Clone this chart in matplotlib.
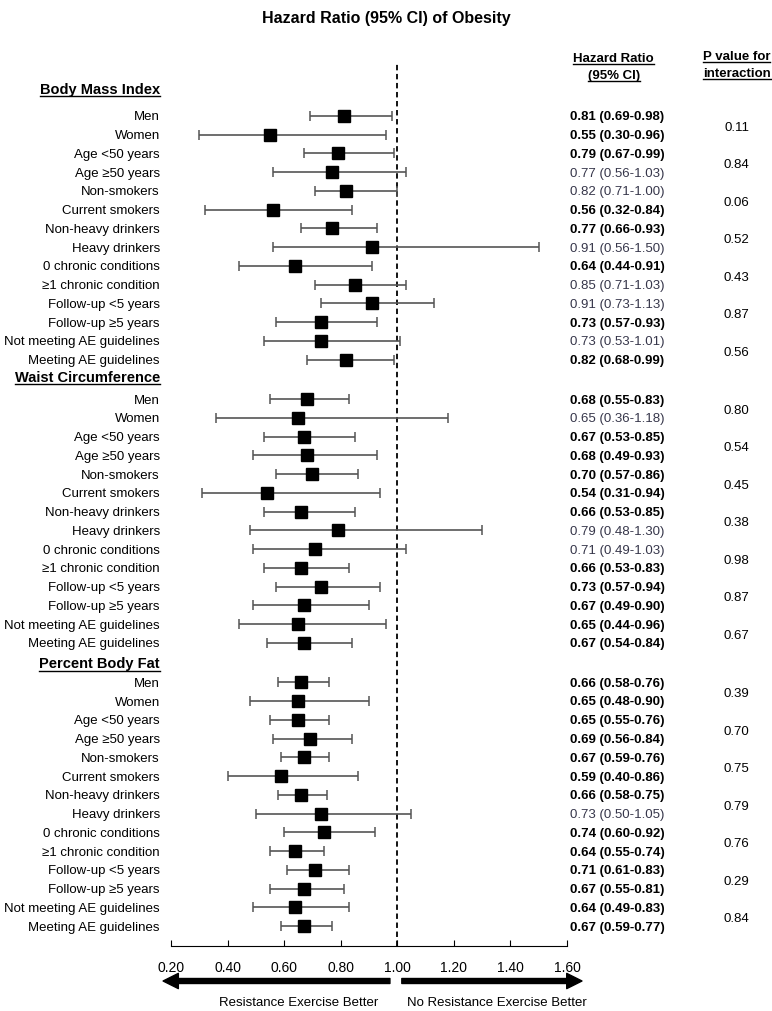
import numpy as np
import matplotlib.pyplot as plt
from matplotlib.lines import Line2D

plt.rcParams['font.family'] = ['Liberation Sans', 'DejaVu Sans']

sections = ["Body Mass Index", "Waist Circumference", "Percent Body Fat"]

subgroups = [
    "Men", "Women", "Age <50 years", "Age ≥50 years", "Non-smokers",
    "Current smokers", "Non-heavy drinkers", "Heavy drinkers",
    "0 chronic conditions", "≥1 chronic condition", "Follow-up <5 years",
    "Follow-up ≥5 years", "Not meeting AE guidelines", "Meeting AE guidelines"
]

bmi_hr = [0.81, 0.55, 0.79, 0.77, 0.82, 0.56, 0.77, 0.91, 0.64, 0.85, 0.91, 0.73, 0.73, 0.82]
bmi_lo = [0.69, 0.30, 0.67, 0.56, 0.71, 0.32, 0.66, 0.56, 0.44, 0.71, 0.73, 0.57, 0.53, 0.68]
bmi_hi = [0.98, 0.96, 0.99, 1.03, 1.00, 0.84, 0.93, 1.50, 0.91, 1.03, 1.13, 0.93, 1.01, 0.99]
bmi_p = [0.11, 0.84, 0.06, 0.52, 0.43, 0.87, 0.56]

wc_hr = [0.68, 0.65, 0.67, 0.68, 0.70, 0.54, 0.66, 0.79, 0.71, 0.66, 0.73, 0.67, 0.65, 0.67]
wc_lo = [0.55, 0.36, 0.53, 0.49, 0.57, 0.31, 0.53, 0.48, 0.49, 0.53, 0.57, 0.49, 0.44, 0.54]
wc_hi = [0.83, 1.18, 0.85, 0.93, 0.86, 0.94, 0.85, 1.30, 1.03, 0.83, 0.94, 0.90, 0.96, 0.84]
wc_p = [0.80, 0.54, 0.45, 0.38, 0.98, 0.87, 0.67]

pbf_hr = [0.66, 0.65, 0.65, 0.69, 0.67, 0.59, 0.66, 0.73, 0.74, 0.64, 0.71, 0.67, 0.64, 0.67]
pbf_lo = [0.58, 0.48, 0.55, 0.56, 0.59, 0.40, 0.58, 0.50, 0.60, 0.55, 0.61, 0.55, 0.49, 0.59]
pbf_hi = [0.76, 0.90, 0.76, 0.84, 0.76, 0.86, 0.75, 1.05, 0.92, 0.74, 0.83, 0.81, 0.83, 0.77]
pbf_p = [0.39, 0.70, 0.75, 0.79, 0.76, 0.29, 0.84]

x_ticks = [0.20, 0.40, 0.60, 0.80, 1.00, 1.20, 1.40, 1.60]

section_data = [
    (bmi_hr, bmi_lo, bmi_hi, bmi_p),
    (wc_hr, wc_lo, wc_hi, wc_p),
    (pbf_hr, pbf_lo, pbf_hi, pbf_p),
]

# layout: row 0 sits at pixel 116, one row = 18.75 px
ROW0, ROWH = 116, 18.75
SECTION_STEP = 15.1
HEADER_GAP = [1.4, 1.15, 0.95]


def row(px):
    return (px - ROW0) / ROWH


fig = plt.figure(figsize=(7.72, 10.11), dpi=100)
ax = fig.add_axes([171 / 772, 65 / 1011, 396 / 772, 884 / 1011])
ax.set_xlim(0.2, 1.6)
ax.set_ylim(row(946), row(62))

ax.axvline(1.0, color="black", lw=1.3, ls=(0, (3, 2)), zorder=1)

LABEL_X = 0.161
HR_X = 1.61
HR_HEAD_X = 1.765
P_X = 2.2
dim = "#36364a"

headers = []
for s, (name, (hr, lo, hi, p)) in enumerate(zip(sections, section_data)):
    hr = np.array(hr)
    lo = np.array(lo)
    hi = np.array(hi)
    rows = s * SECTION_STEP + np.arange(len(hr))

    ax.errorbar(
        hr, rows,
        xerr=[hr - lo, hi - hr],
        fmt="s",
        color="black",
        ms=8,
        ecolor="#555555",
        elinewidth=1.2,
        capsize=3.5,
        capthick=1.1,
        zorder=3
    )

    t = ax.text(LABEL_X, s * SECTION_STEP - HEADER_GAP[s], name,
                ha="right", va="center", fontsize=10.5, fontweight="bold",
                clip_on=False)
    headers.append(t)

    for i, y in enumerate(rows):
        ax.text(LABEL_X, y, subgroups[i], ha="right", va="center_baseline",
                fontsize=9.5, clip_on=False)
        sig = hi[i] < 1.0
        ax.text(HR_X, y, f"{hr[i]:.2f} ({lo[i]:.2f}-{hi[i]:.2f})",
                ha="left", va="center_baseline", fontsize=9.5,
                fontweight="bold" if sig else "normal",
                color="black" if sig else dim, clip_on=False)

    for k, pv in enumerate(p):
        ax.text(P_X, s * SECTION_STEP + 2 * k + 0.55, f"{pv:.2f}",
                ha="center", va="center_baseline", fontsize=9.5, clip_on=False)

# column headers
for txt, x, y in [("Hazard Ratio", HR_HEAD_X, row(59)), ("(95% CI)", HR_HEAD_X, row(76)),
                  ("P value for", P_X, row(57)), ("interaction", P_X, row(74))]:
    t = ax.text(x, y, txt, ha="center", va="center", fontsize=9.5,
                fontweight="bold", clip_on=False)
    headers.append(t)

fig.text(0.5, 1 - 19 / 1011, "Hazard Ratio (95% CI) of Obesity",
         ha="center", va="center", fontsize=11.5, fontweight="bold")

for side in ["left", "top", "right"]:
    ax.spines[side].set_visible(False)
ax.set_yticks([])
ax.set_xticks(x_ticks)
ax.set_xticklabels([f"{v:.2f}" for v in x_ticks])
ax.tick_params(axis="x", direction="in", length=4, pad=11, labelsize=10)

# arrows below the axis
ARROW_Y = -35 / 884
ax.annotate("", xy=(0.172, ARROW_Y), xytext=(0.974, ARROW_Y),
            xycoords=ax.get_xaxis_transform(),
            arrowprops=dict(width=3.6, headwidth=11, headlength=11,
                            color="black", shrink=0),
            annotation_clip=False)
ax.annotate("", xy=(1.653, ARROW_Y), xytext=(1.016, ARROW_Y),
            xycoords=ax.get_xaxis_transform(),
            arrowprops=dict(width=3.6, headwidth=11, headlength=11,
                            color="black", shrink=0),
            annotation_clip=False)
ax.text(0.652, -57 / 884, "Resistance Exercise Better", ha="center", va="center",
        fontsize=9.5, transform=ax.get_xaxis_transform(), clip_on=False)
ax.text(1.352, -57 / 884, "No Resistance Exercise Better", ha="center", va="center",
        fontsize=9.5, transform=ax.get_xaxis_transform(), clip_on=False)

# underline the bold headers
fig.canvas.draw()
renderer = fig.canvas.get_renderer()
for t in headers:
    bb = t.get_window_extent(renderer).transformed(fig.transFigure.inverted())
    fig.add_artist(Line2D([bb.x0, bb.x1], [bb.y0 + 0.0005, bb.y0 + 0.0005],
                          transform=fig.transFigure, color="black", lw=1))

fig.savefig("out.png", dpi=100)
